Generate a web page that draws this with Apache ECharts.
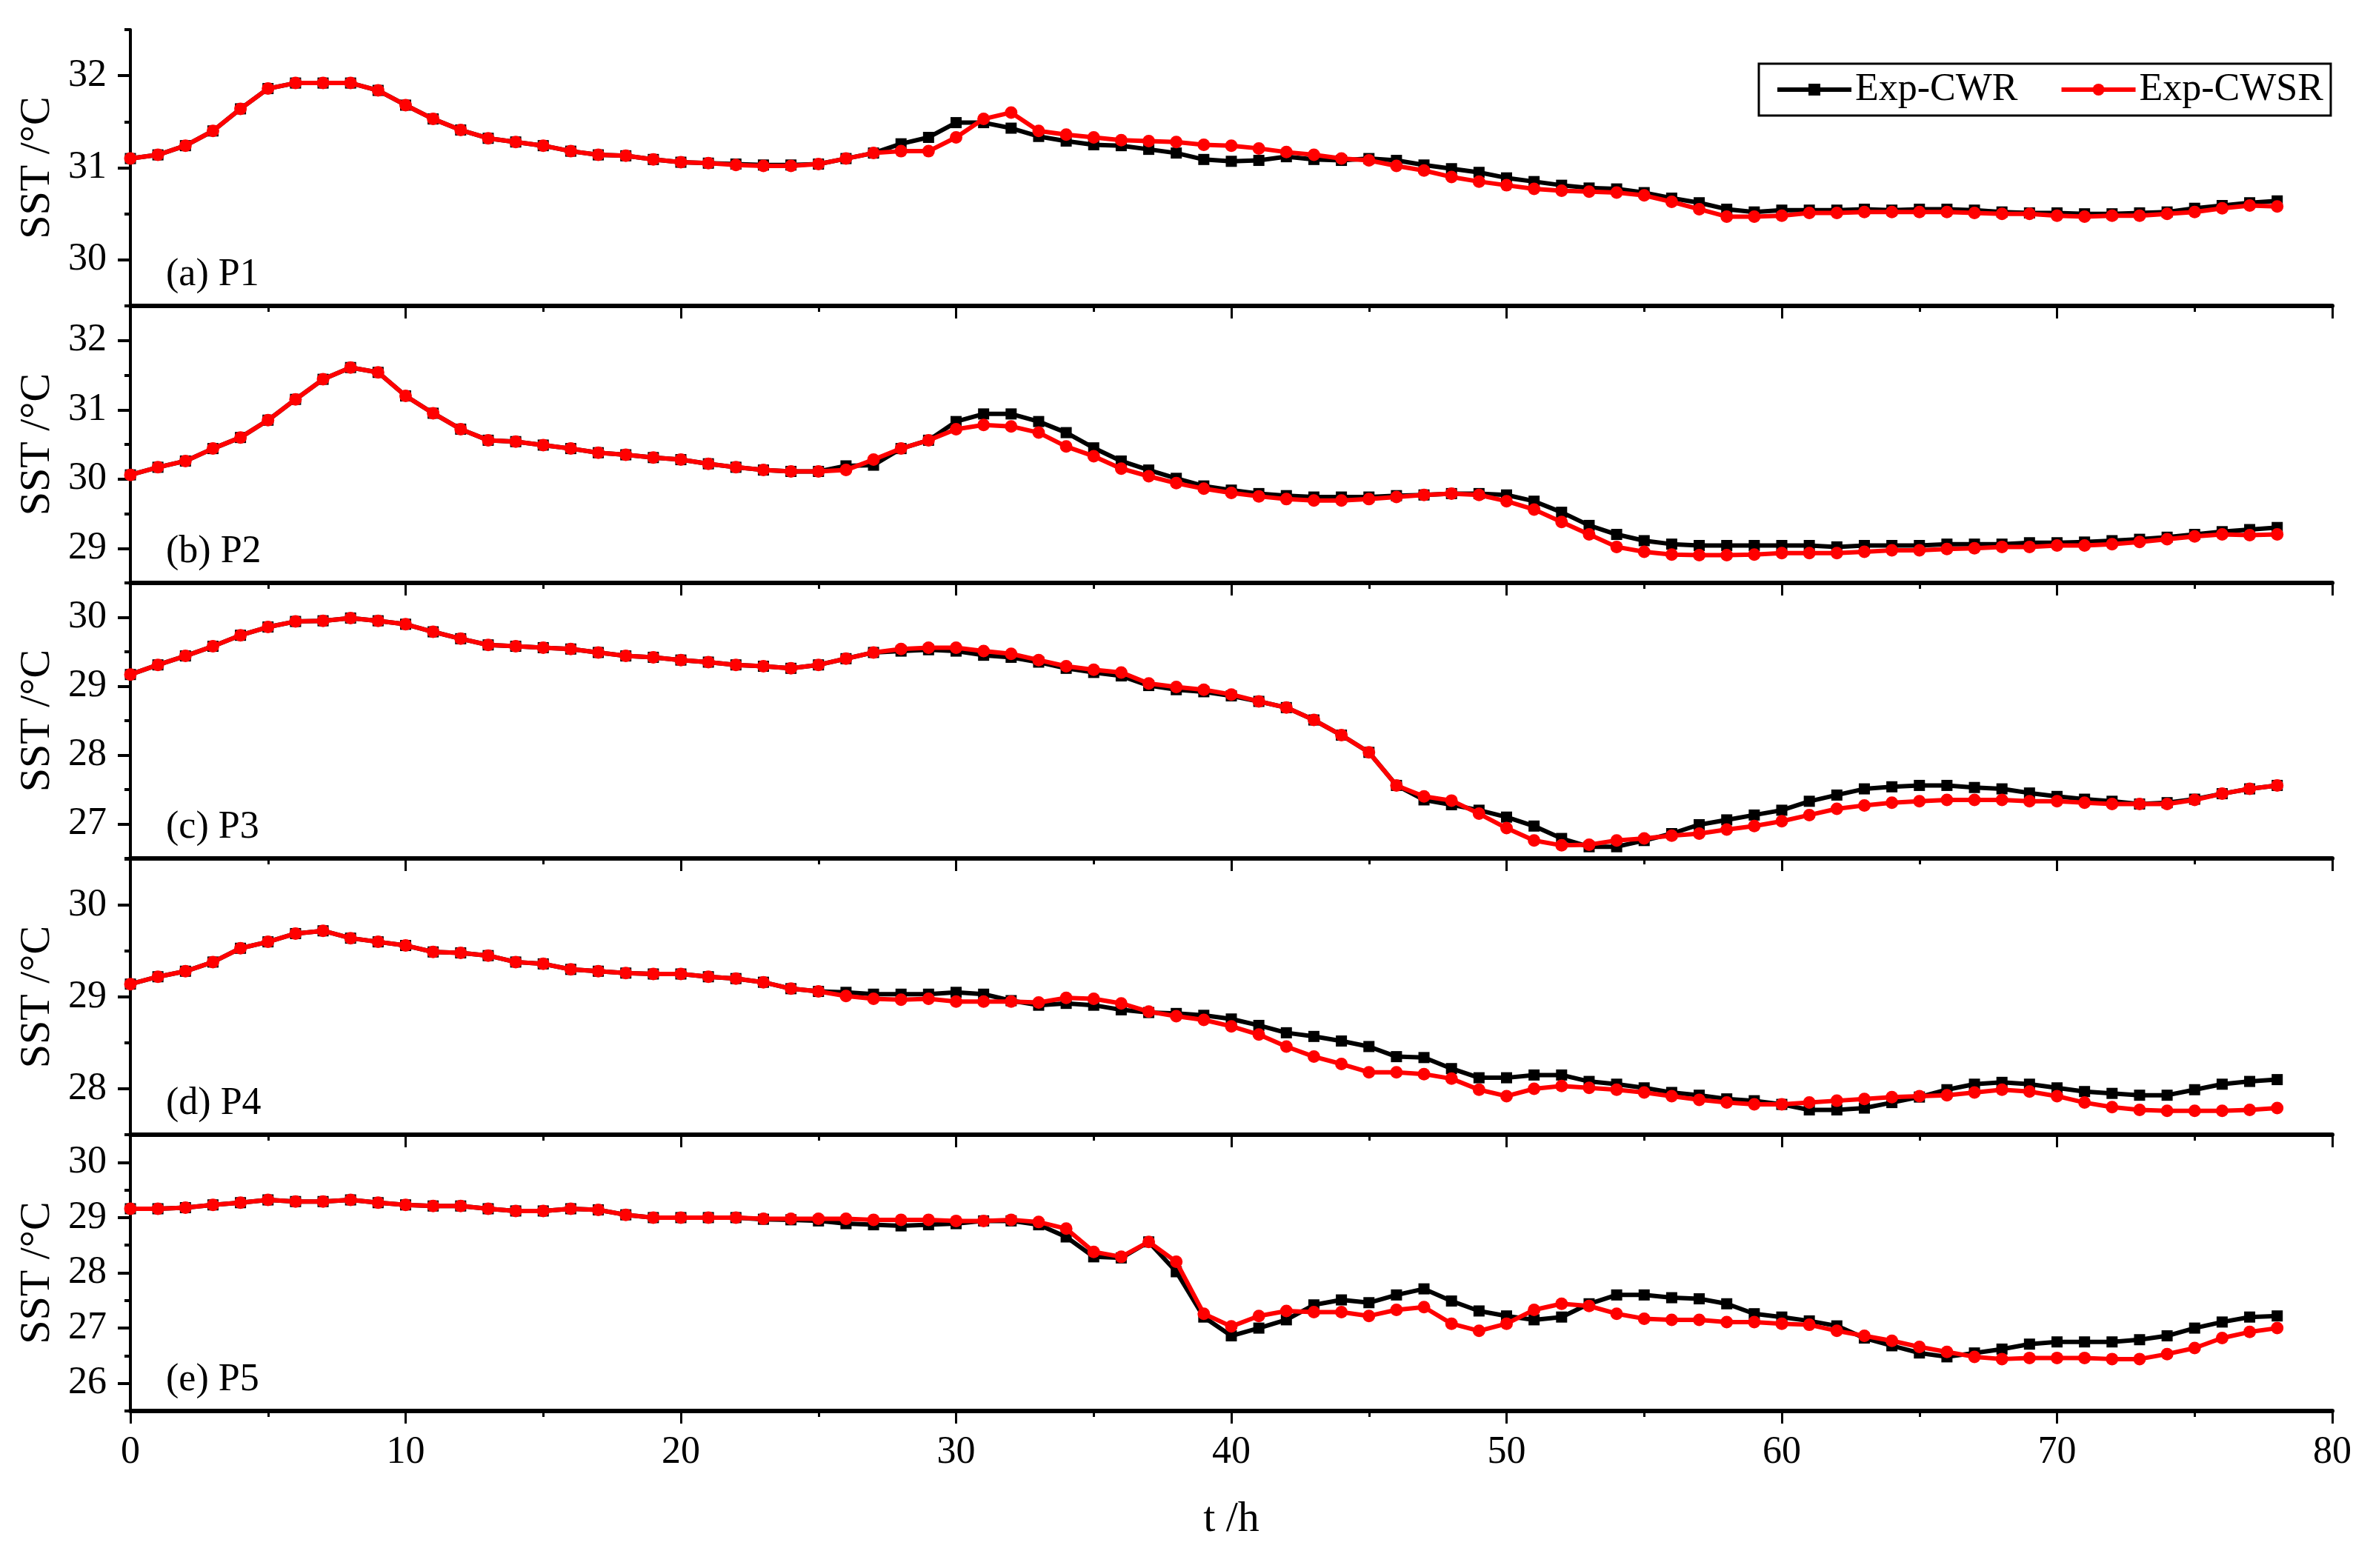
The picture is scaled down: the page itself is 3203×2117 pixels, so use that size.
<!DOCTYPE html>
<html>
<head>
<meta charset="utf-8">
<script src="https://cdn.jsdelivr.net/npm/echarts@6/dist/echarts.min.js"></script>
<style>html,body{margin:0;padding:0;background:#fff}#c{width:3203px;height:2117px}</style>
</head>
<body>
<div id="c"></div>
<script>
const hours = Array.from({length: 79}, (_, i) => i);
const seriesNames = ['Exp-CWR', 'Exp-CWSR'];
const panelLabels = ['(a) P1', '(b) P2', '(c) P3', '(d) P4', '(e) P5'];
const xTickLabels = [0, 10, 20, 30, 40, 50, 60, 70, 80];

const p1CWR = [31.10,31.14,31.24,31.40,31.64,31.86,31.92,31.92,31.92,31.84,31.68,31.53,31.41,31.32,31.28,31.24,31.18,31.14,31.13,31.09,31.06,31.05,31.04,31.03,31.03,31.04,31.10,31.16,31.26,31.33,31.49,31.49,31.43,31.34,31.29,31.25,31.24,31.20,31.16,31.09,31.07,31.08,31.12,31.09,31.08,31.10,31.08,31.03,30.99,30.95,30.89,30.85,30.81,30.78,30.77,30.73,30.67,30.62,30.55,30.52,30.54,30.54,30.54,30.55,30.54,30.55,30.55,30.54,30.52,30.51,30.51,30.50,30.50,30.51,30.52,30.56,30.59,30.62,30.64];
const p1CWSR = [31.10,31.14,31.24,31.40,31.64,31.86,31.92,31.92,31.92,31.84,31.68,31.53,31.41,31.32,31.28,31.24,31.18,31.14,31.13,31.09,31.06,31.05,31.03,31.02,31.02,31.04,31.10,31.16,31.18,31.18,31.33,31.53,31.60,31.40,31.36,31.33,31.30,31.29,31.28,31.25,31.24,31.21,31.17,31.14,31.10,31.08,31.02,30.97,30.90,30.85,30.81,30.77,30.75,30.74,30.73,30.70,30.63,30.55,30.47,30.47,30.48,30.51,30.51,30.52,30.52,30.52,30.52,30.51,30.50,30.50,30.48,30.47,30.48,30.48,30.50,30.52,30.56,30.59,30.58];

const p2CWR = [30.06,30.17,30.26,30.44,30.60,30.85,31.15,31.44,31.61,31.54,31.20,30.95,30.72,30.56,30.54,30.49,30.44,30.38,30.35,30.31,30.28,30.22,30.17,30.13,30.11,30.11,30.19,30.20,30.44,30.56,30.83,30.94,30.94,30.83,30.67,30.45,30.26,30.13,30.01,29.90,29.84,29.79,29.76,29.74,29.74,29.74,29.76,29.77,29.79,29.79,29.77,29.68,29.52,29.33,29.20,29.11,29.06,29.04,29.04,29.04,29.04,29.04,29.02,29.04,29.04,29.04,29.06,29.06,29.06,29.08,29.08,29.09,29.11,29.13,29.16,29.20,29.24,29.27,29.30];
const p2CWSR = [30.06,30.17,30.26,30.44,30.60,30.85,31.15,31.44,31.61,31.54,31.20,30.95,30.72,30.56,30.54,30.49,30.44,30.38,30.35,30.31,30.28,30.22,30.17,30.13,30.11,30.11,30.13,30.28,30.44,30.56,30.72,30.78,30.76,30.67,30.47,30.33,30.15,30.04,29.94,29.86,29.80,29.75,29.71,29.69,29.69,29.71,29.74,29.77,29.79,29.77,29.68,29.56,29.38,29.20,29.02,28.95,28.91,28.90,28.90,28.91,28.93,28.93,28.93,28.95,28.97,28.97,28.99,29.00,29.02,29.02,29.04,29.04,29.06,29.09,29.13,29.17,29.20,29.19,29.20];

const p3CWR = [29.17,29.31,29.44,29.58,29.74,29.86,29.94,29.95,29.99,29.95,29.90,29.79,29.69,29.60,29.58,29.56,29.54,29.49,29.44,29.42,29.38,29.35,29.31,29.29,29.26,29.31,29.40,29.49,29.51,29.53,29.51,29.45,29.42,29.35,29.26,29.20,29.15,29.01,28.95,28.92,28.86,28.78,28.69,28.51,28.29,28.04,27.56,27.35,27.28,27.20,27.10,26.97,26.79,26.67,26.67,26.76,26.86,26.99,27.06,27.13,27.20,27.33,27.42,27.51,27.54,27.56,27.56,27.53,27.51,27.45,27.40,27.36,27.33,27.29,27.31,27.36,27.44,27.51,27.56];
const p3CWSR = [29.17,29.31,29.44,29.58,29.74,29.86,29.94,29.95,29.99,29.95,29.90,29.79,29.69,29.60,29.58,29.56,29.54,29.49,29.44,29.42,29.38,29.35,29.31,29.29,29.26,29.31,29.40,29.49,29.54,29.56,29.56,29.51,29.47,29.38,29.29,29.24,29.20,29.04,28.99,28.95,28.88,28.78,28.69,28.51,28.29,28.04,27.56,27.40,27.34,27.15,26.94,26.76,26.69,26.70,26.76,26.79,26.83,26.86,26.92,26.97,27.04,27.13,27.22,27.27,27.31,27.33,27.35,27.35,27.35,27.33,27.33,27.31,27.29,27.29,27.29,27.35,27.44,27.51,27.56];

const p4CWR = [29.14,29.22,29.28,29.38,29.53,29.60,29.69,29.72,29.64,29.60,29.56,29.49,29.48,29.45,29.38,29.36,29.30,29.28,29.26,29.25,29.25,29.22,29.20,29.16,29.09,29.06,29.05,29.03,29.03,29.03,29.05,29.03,28.96,28.91,28.93,28.91,28.86,28.83,28.82,28.80,28.76,28.69,28.61,28.57,28.52,28.46,28.35,28.34,28.22,28.12,28.12,28.15,28.15,28.08,28.05,28.01,27.96,27.93,27.89,27.87,27.83,27.77,27.77,27.79,27.85,27.91,27.99,28.05,28.07,28.05,28.01,27.97,27.95,27.93,27.93,27.99,28.05,28.08,28.10];
const p4CWSR = [29.14,29.22,29.28,29.38,29.53,29.60,29.69,29.72,29.64,29.60,29.56,29.49,29.48,29.45,29.38,29.36,29.30,29.28,29.26,29.25,29.25,29.22,29.20,29.16,29.09,29.06,29.01,28.98,28.97,28.98,28.95,28.95,28.95,28.94,28.99,28.98,28.93,28.84,28.79,28.75,28.68,28.59,28.46,28.35,28.27,28.18,28.18,28.16,28.11,27.99,27.92,28.00,28.03,28.01,27.99,27.96,27.92,27.88,27.85,27.83,27.83,27.85,27.87,27.89,27.91,27.92,27.93,27.96,27.99,27.97,27.92,27.85,27.80,27.77,27.76,27.76,27.76,27.77,27.79];

const p5CWR = [29.16,29.16,29.18,29.23,29.27,29.32,29.29,29.29,29.32,29.27,29.23,29.21,29.21,29.16,29.12,29.12,29.16,29.14,29.05,29.00,29.00,29.00,29.00,28.97,28.96,28.94,28.89,28.87,28.85,28.87,28.89,28.94,28.94,28.87,28.65,28.29,28.27,28.56,28.02,27.20,26.86,27.00,27.15,27.42,27.51,27.46,27.60,27.71,27.49,27.31,27.22,27.15,27.20,27.44,27.60,27.60,27.55,27.53,27.44,27.26,27.20,27.13,27.04,26.82,26.68,26.55,26.48,26.55,26.62,26.71,26.75,26.75,26.75,26.79,26.86,27.00,27.11,27.20,27.22];
const p5CWSR = [29.16,29.16,29.18,29.23,29.27,29.32,29.29,29.29,29.32,29.27,29.23,29.21,29.21,29.16,29.12,29.12,29.16,29.14,29.05,29.00,29.00,29.00,29.00,28.98,28.98,28.98,28.98,28.96,28.96,28.96,28.94,28.94,28.96,28.92,28.80,28.38,28.29,28.56,28.20,27.26,27.03,27.22,27.31,27.29,27.29,27.22,27.33,27.38,27.08,26.95,27.08,27.33,27.44,27.40,27.26,27.17,27.15,27.15,27.11,27.11,27.08,27.06,26.95,26.86,26.77,26.66,26.57,26.48,26.44,26.46,26.46,26.46,26.44,26.44,26.53,26.64,26.82,26.93,27.00];

const yMin = [29.5, 28.5, 26.5, 27.5, 25.5];
const yMax = [32.5, 32.5, 30.5, 30.5, 30.5];
const yTickLabels = [[30,31,32],[29,30,31,32],[27,28,29,30],[28,29,30],[26,27,28,29,30]];
const yMinorTicks = [[29.5,30.5,31.5,32.5],[28.5,29.5,30.5,31.5,32.5],[26.5,27.5,28.5,29.5,30.5],[27.5,28.5,29.5,30.5],[25.5,26.5,27.5,28.5,29.5,30.5]];

const cwrData = [p1CWR, p2CWR, p3CWR, p4CWR, p5CWR];
const cwsrData = [p1CWSR, p2CWSR, p3CWSR, p4CWSR, p5CWSR];

const FONT = "'Liberation Serif', 'Times New Roman', serif";
const gridTops = [40, 413, 787, 1160, 1532];
const gridHeights = [373, 374, 372, 372, 373];
const GL = 176, GW = 2972;

const grids = [], xAxes = [], yAxes = [], series = [], graphics = [];
for (let p = 0; p < 5; p++) {
  grids.push({left: GL, width: GW, top: gridTops[p], height: gridHeights[p], outerBoundsMode: 'none'});
  const last = p === 4;
  xAxes.push({
    type: 'value', gridIndex: p, min: 0, max: 80, interval: 10, position: 'bottom',
    axisLine: {show: true, onZero: false, lineStyle: {color: '#000', width: 6}},
    axisTick: {show: true, inside: false, length: 17, lineStyle: {color: '#000', width: 3}},
    minorTick: {show: true, splitNumber: 2, length: 8, lineStyle: {color: '#000', width: 3}},
    splitLine: {show: false}, minorSplitLine: {show: false},
    axisLabel: {show: last, margin: 30, color: '#000', fontSize: 52, fontFamily: FONT,
      customValues: xTickLabels},
    name: last ? 't /h' : '', nameLocation: 'middle', nameGap: 118,
    nameTextStyle: {color: '#000', fontSize: 58, fontFamily: FONT}
  });
  yAxes.push({
    type: 'value', gridIndex: p, min: yMin[p], max: yMax[p], position: 'left',
    axisLine: {show: true, onZero: false, lineStyle: {color: '#000', width: 4}},
    axisTick: {show: true, inside: false, length: 17, lineStyle: {color: '#000', width: 4},
      customValues: yTickLabels[p]},
    axisLabel: {show: true, margin: 32, color: '#000', fontSize: 52, fontFamily: FONT,
      customValues: yTickLabels[p]},
    splitLine: {show: false},
    name: 'SST /°C', nameLocation: 'middle', nameGap: 96, nameRotate: 90,
    nameTextStyle: {color: '#000', fontSize: 58, fontFamily: FONT}
  });
  yAxes.push({
    type: 'value', gridIndex: p, min: yMin[p], max: yMax[p], position: 'left',
    axisLine: {show: false, onZero: false},
    axisTick: {show: true, inside: false, length: 8, lineStyle: {color: '#000', width: 4},
      customValues: yMinorTicks[p]},
    axisLabel: {show: false}, splitLine: {show: false}
  });
  series.push({
    name: seriesNames[0], type: 'line', xAxisIndex: p, yAxisIndex: 2 * p,
    data: hours.map((h, i) => [h, cwrData[p][i]]),
    symbol: 'rect', symbolSize: 15, showSymbol: true,
    lineStyle: {color: '#000', width: 6}, itemStyle: {color: '#000'}, z: 3
  });
  series.push({
    name: seriesNames[1], type: 'line', xAxisIndex: p, yAxisIndex: 2 * p,
    data: hours.map((h, i) => [h, cwsrData[p][i]]),
    symbol: 'circle', symbolSize: 17, showSymbol: true,
    lineStyle: {color: '#ff0000', width: 6}, itemStyle: {color: '#ff0000'}, z: 4
  });
  graphics.push({
    type: 'text', x: 224, y: gridTops[p] + gridHeights[p] - 42,
    style: {text: panelLabels[p], fill: '#000', font: '52px ' + FONT, textVerticalAlign: 'middle'}
  });
}

const chart = echarts.init(document.getElementById('c'), null, {renderer: 'canvas'});
chart.setOption({
  animation: false,
  backgroundColor: '#fff',
  grid: grids, xAxis: xAxes, yAxis: yAxes, series: series, graphic: graphics,
  legend: {
    data: seriesNames, left: 2374, top: 86, orient: 'horizontal',
    itemWidth: 100, itemHeight: 20, itemGap: 56,
    padding: [9, 10, 9, 22], borderColor: '#000', borderWidth: 3,
    lineStyle: {width: 6},
    textStyle: {color: '#000', fontSize: 52, fontFamily: FONT}
  }
});
</script>
</body>
</html>
